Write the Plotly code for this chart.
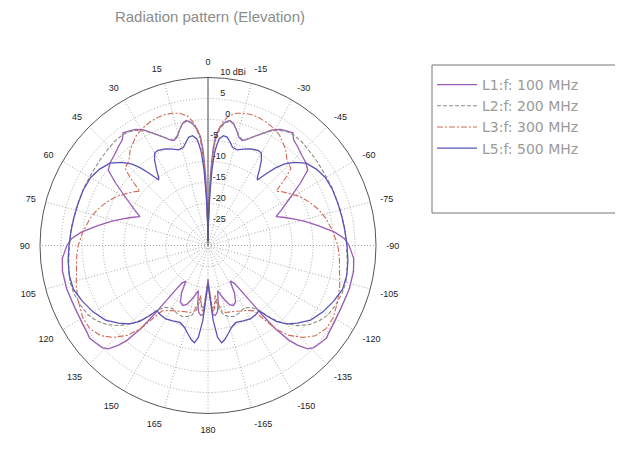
import plotly.graph_objects as go

# ---- data (one half of the symmetric pattern, angles in degrees 0..180, gain in dBi)
L1_ANG = [0, 1, 2, 3, 4, 6, 8, 10, 12, 14, 16, 18, 20, 23, 26, 29, 32, 35, 37, 39, 42, 46, 50, 53,
          56, 60, 64, 67, 70, 73, 76, 80, 84, 87, 90, 95, 100, 107, 115, 122, 126, 128, 131, 134,
          136, 138, 139.5, 141, 142, 143, 145, 148, 151, 154, 157, 160, 163, 166, 168, 170, 172,
          174, 176, 178, 180]
L1_VAL = [-29, -22, -13, -7, -4, -1.5, -0.3, 0.2, -0.4, -1.8, -3.2, -3.7, -3.2, -1.8, -0.3, 1.5,
          2.6, 3.2, 3.6, 2.4, 1.8, 1.0, 0.5, -0.3, -3.5, -7.5, -10.5, -12.4, -10.5, -8.5, -6.2,
          -3.2, 0.3, 2.5, 3.6, 4.8, 5.2, 5.2, 5.0, 5.2, 5.5, 5.8, 5.4, 5.0, 4.2, 2.0, -0.3, -4.5,
          -9, -14, -19, -20, -17, -15, -14.5, -15, -16.5, -18, -19, -16, -14, -13.3, -13.5, -18, -22]

L2_ANG = [0, 1, 2, 3, 4, 6, 8, 10, 12, 14, 16, 18, 20, 23, 26, 29, 32, 35, 38, 42, 47, 52, 58,
          65, 74, 82, 90, 98, 105, 110, 115, 120, 124, 128, 132, 136, 139, 142, 145, 150, 155,
          160, 164, 167, 170, 172, 174, 176, 178, 180]
L2_VAL = [-29, -24, -15, -8, -4.5, -1.8, -0.5, 0, -0.5, -1.8, -3, -3.5, -3, -1.8, -0.3, 1.2,
          2.3, 3.0, 3.3, 3.3, 3.0, 2.8, 2.6, 2.6, 2.6, 2.8, 3.0, 3.5, 4.0, 3.9, 3.5, 3.0, 2.0,
          0.6, -1.5, -4.3, -7, -10.5, -12, -12.8, -12.3, -12, -12.4, -13, -14.5, -17, -15.5,
          -15, -19, -21]

L3_ANG = [0, 1, 2, 3, 4, 5, 7, 9, 12, 15, 18, 21, 25, 29, 33, 36, 39, 43, 47, 49, 51.5, 54, 58,
          62, 67, 72, 77, 84, 90, 95, 101, 107, 113, 120, 125, 130, 134, 138, 141, 143, 145,
          149, 153, 157, 161, 165, 168, 170, 172, 174, 176, 178, 180]
L3_VAL = [-29, -25, -17, -9, -5, -2.5, -0.3, 1.2, 2.2, 2.6, 2.8, 2.8, 2.5, 2.0, 1.3, 0.3, -0.6,
          -2.4, -3.0, -5.5, -9.3, -8.2, -6.8, -5.2, -3.7, -2.3, -1.2, 0, 0.9, 1.4, 1.9, 2.8, 3.6,
          4.4, 4.4, 3.4, 1.5, -1.2, -4.5, -8.3, -11, -12, -12.5, -13, -13.3, -13.5, -14, -16,
          -18, -15, -14, -19, -21]

L5_ANG = [0, 1, 2, 3, 4, 5, 6, 8, 10, 12, 14, 17, 20, 24, 28, 30, 32, 34, 36, 37, 39, 41, 43,
          46, 50, 55, 60, 66, 72, 78, 84, 90, 96, 102, 108, 114, 120, 126, 131, 135, 138, 140,
          142, 145, 150, 155, 160, 164, 167, 170, 172, 174, 176, 178, 180]
L5_VAL = [-29, -25, -18, -12, -8, -6, -4.5, -3.6, -3.8, -4.8, -5.9, -6.2, -5.6, -4.8, -4.4,
          -4.6, -6, -8, -10, -10.5, -8, -5.5, -3.5, -1.5, 0.5, 1.6, 2.3, 2.5, 2.5, 2.6, 2.8, 3.1,
          3.5, 3.8, 3.7, 2.7, 1.6, 0.2, -1.8, -3.6, -5.7, -8, -10.3, -10, -9.8, -10.2, -10.5,
          -9.7, -8.5, -7.2, -6.6, -8, -12, -18, -21]

SERIES = ["L1:f: 100 MHz", "L2:f: 200 MHz", "L3:f: 300 MHz", "L5:f: 500 MHz"]
RADIAL_TICKS = [-25, -20, -15, -10, -5, 0, 5, 10]
RADIAL_TEXT = ["-25", "-20", "-15", "-10", "-5", "0", "5", "10 dBi"]
ANG_TICKS = [0, 15, 30, 45, 60, 75, 90, 105, 120, 135, 150, 165, 180,
             195, 210, 225, 240, 255, 270, 285, 300, 315, 330, 345]
ANG_TEXT = ["0", "15", "30", "45", "60", "75", "90", "105", "120", "135", "150", "165", "180",
            "-165", "-150", "-135", "-120", "-105", "-90", "-75", "-60", "-45", "-30", "-15"]

# small left padding (non-breaking spaces) for the radial labels, as in the original
RADIAL_PAD = [1, 1, 1, 1, 0, 6, 4, 4]
radial_labels = ["\u00a0" * n + t + "<br> " for n, t in zip(RADIAL_PAD, RADIAL_TEXT)]


def full(ang, val):
    # pattern is symmetric about the 0/180 axis: left half then mirrored right half
    th = list(ang) + [-a for a in reversed(ang)]
    rr = list(val) + list(reversed(val))
    return th, rr


styles = [
    dict(color="#9a5cb8", width=1.3, dash="solid"),
    dict(color="#8a8c84", width=1.1, dash="4px,2px"),
    dict(color="#d06a55", width=1.1, dash="6px,2px,2px,2px"),
    dict(color="#5a54b8", width=1.3, dash="solid"),
]

fig = go.Figure()
for name, (a, v), st in zip(SERIES, [(L1_ANG, L1_VAL), (L2_ANG, L2_VAL), (L3_ANG, L3_VAL),
                                      (L5_ANG, L5_VAL)], styles):
    th, rr = full(a, v)
    fig.add_trace(go.Scatterpolar(theta=th, r=rr, mode="lines", name=name,
                                  line=st, hoverinfo="skip"))

OFF = 8  # page body margin of the html page
W, H = 623 - OFF, 474 - OFF
cx, cy, R = 208 - OFF, 245.5 - OFF, 168


def px(x):
    return (x - OFF) / W


def py(y):
    return 1 - (y - OFF) / H


GRID = "#a8a8a8"
TICKFONT = dict(size=9, color="#222", family="Liberation Sans, Arial, sans-serif")
fig.update_layout(
    width=W, height=H,
    margin=dict(l=0, r=0, t=0, b=0, autoexpand=False),
    paper_bgcolor="white",
    font=dict(family="Liberation Sans, Arial, sans-serif", size=11, color="#222"),
    title=dict(text="Radiation pattern (Elevation)", x=px(210), y=py(17),
               xanchor="center", yanchor="middle",
               font=dict(size=15, color="#8c8c8c", family="Liberation Sans, Arial, sans-serif")),
    polar=dict(
        domain=dict(x=[(cx - R) / W, (cx + R) / W], y=[1 - (cy + R) / H, 1 - (cy - R) / H]),
        bgcolor="white",
        angularaxis=dict(rotation=90, direction="counterclockwise", thetaunit="degrees",
                         tickvals=ANG_TICKS, ticktext=ANG_TEXT, ticks="outside", ticklen=8,
                         tickcolor="rgba(0,0,0,0)",
                         showline=True, linecolor="#555", linewidth=1,
                         showgrid=True, gridcolor=GRID, griddash="1px,2px", gridwidth=1,
                         tickfont=TICKFONT),
        radialaxis=dict(range=[-30, 10], tickvals=RADIAL_TICKS, ticktext=radial_labels,
                        angle=90, tickangle=90, side="clockwise",
                        showline=True, linecolor="#555", linewidth=1, ticks="",
                        showgrid=True, gridcolor=GRID, griddash="1px,2px", gridwidth=1,
                        tickfont=TICKFONT),
    ),
    legend=dict(x=px(432), y=py(69), xanchor="left", yanchor="top",
                bgcolor="rgba(0,0,0,0)", borderwidth=0,
                font=dict(size=14, color="#9a9a9a", family="DejaVu Sans, sans-serif"),
                itemwidth=40, tracegroupgap=0),
    shapes=[dict(type="rect", xref="paper", yref="paper",
                 x0=px(432), x1=px(621), y0=py(213), y1=py(65),
                 line=dict(color="#777", width=1), fillcolor="rgba(0,0,0,0)")],
)

fig.write_html("out.html")
